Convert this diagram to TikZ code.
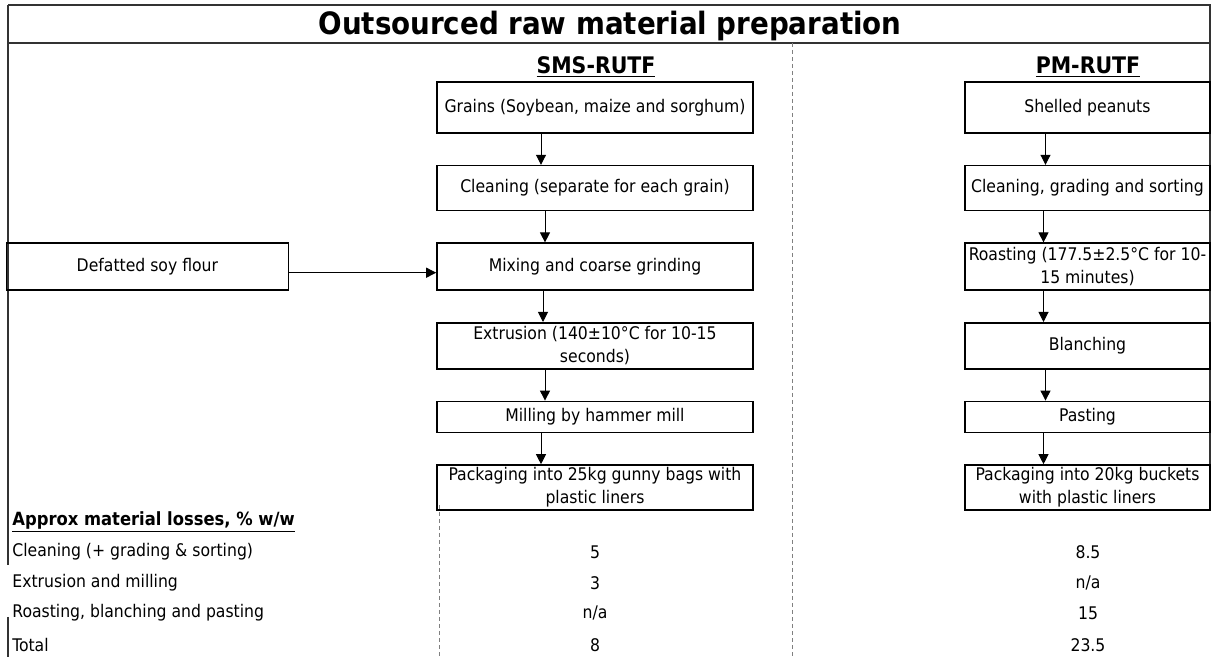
\documentclass[tikz,border=0pt]{standalone}
\usepackage{fontspec}
\setmainfont{DejaVu Sans Condensed}
\usetikzlibrary{positioning,arrows.meta}

\tikzset{
  stepbox/.style={draw, line width=0.8pt, align=center, inner sep=0pt, minimum width=158pt},
  pmbox/.style={stepbox, minimum width=122.5pt},
  flow/.style={-{Triangle[length=5pt,width=5pt]}, line width=0.5pt},
  frame/.style={line width=0.8pt, black!80},
  divider/.style={gray, line width=0.5pt, dash pattern=on 2pt off 1.5pt},
  heading/.style={font=\fontsize{11.4}{13}\selectfont\bfseries},
  rowlabel/.style={anchor=west, inner sep=0pt},
  value/.style={inner sep=0pt},
}

\begin{document}
\begin{tikzpicture}[x=0.5pt, y=-0.5pt, node distance=15.5pt, font=\fontsize{8.7}{11.5}\selectfont]
\clip (0,0) rectangle (1211,657);
% frame and dividers
\draw[frame] (8,5) -- (1211,5);
\draw[frame] (8,43) -- (1211,43);
\draw[frame] (8,5) -- (8,565);
\draw[frame] (8,617) -- (8,657);
\draw[frame] (1210,5) -- (1210,502);
\draw[divider] (792,43) -- (792,657);
\draw[divider] (439,505) -- (439,657);
\node (title) at (610,26) {\fontsize{15.4}{18}\selectfont\bfseries Outsourced raw material preparation};
\node[heading] (sms) at (596,67) {\underline{SMS-RUTF}};
\node[heading] (pm) at (1088,67) {\underline{PM-RUTF}};
% SMS-RUTF
\node[stepbox, minimum height=25.5pt] (grains) at (595,107.5) {Grains (Soybean, maize and sorghum)};
\node[stepbox, minimum height=22.5pt, below=of grains] (clean) {Cleaning (separate for each grain)};
\node[stepbox, minimum height=23.5pt, below=of clean] (mix) {Mixing and coarse grinding};
\node[stepbox, minimum height=23pt, below=of mix] (extr) {Extrusion (140±10°C for 10-15\\seconds)};
\node[stepbox, minimum height=15.5pt, below=of extr] (mill) {Milling by hammer mill};
\node[stepbox, minimum height=22.5pt, below=of mill] (pack) {Packaging into 25kg gunny bags with\\plastic liners};
\node[stepbox, minimum width=141pt, minimum height=23.5pt, left=73.5pt of mix] (soy) {Defatted soy flour};
\draw[flow] ([xshift=-27pt]grains.south) -- ([xshift=-27pt]clean.north);
\draw[flow] ([xshift=-25pt]clean.south) -- ([xshift=-25pt]mix.north);
\draw[flow] ([xshift=-26pt]mix.south) -- ([xshift=-26pt]extr.north);
\draw[flow] ([xshift=-25pt]extr.south) -- ([xshift=-25pt]mill.north);
\draw[flow] ([xshift=-27pt]mill.south) -- ([xshift=-27pt]pack.north);
\draw[flow] ([yshift=-3pt]soy.east) -- ([yshift=-3pt]mix.west);
% PM-RUTF
\node[pmbox, minimum height=25.5pt] (nuts) at (1087.5,107.5) {Shelled peanuts};
\node[pmbox, minimum height=22.5pt, below=of nuts] (sort) {Cleaning, grading and sorting};
\node[pmbox, minimum height=23.5pt, below=of sort] (roast) {Roasting (177.5±2.5°C for 10-\\15 minutes)};
\node[pmbox, minimum height=23pt, below=of roast] (blanch) {Blanching};
\node[pmbox, minimum height=15.5pt, below=of blanch] (paste) {Pasting};
\node[pmbox, minimum height=22.5pt, below=of paste] (bucket) {Packaging into 20kg buckets\\with plastic liners};
\draw[flow] ([xshift=-21pt]nuts.south) -- ([xshift=-21pt]sort.north);
\draw[flow] ([xshift=-22pt]sort.south) -- ([xshift=-22pt]roast.north);
\draw[flow] ([xshift=-22pt]roast.south) -- ([xshift=-22pt]blanch.north);
\draw[flow] ([xshift=-21pt]blanch.south) -- ([xshift=-21pt]paste.north);
\draw[flow] ([xshift=-22pt]paste.south) -- ([xshift=-22pt]bucket.north);
% losses
\node[rowlabel] (loss) at (12,522) {\fontsize{9.1}{11}\selectfont\bfseries\underline{Approx material losses, \% w/w}};
\node[rowlabel] (rclean) at (12,552) {Cleaning (+ grading \& sorting)};
\node[rowlabel] (rextr) at (12,583) {Extrusion and milling};
\node[rowlabel] (rroast) at (12,613) {Roasting, blanching and pasting};
\node[rowlabel] (rtotal) at (12,645) {Total};
\node[value] (s1) at (595,552) {5};
\node[value] (s2) at (595,583) {3};
\node[value] (s3) at (595,613) {n/a};
\node[value] (s4) at (595,645) {8};
\node[value] (p1) at (1088,552) {8.5};
\node[value] (p2) at (1088,583) {n/a};
\node[value] (p3) at (1088,613) {15};
\node[value] (p4) at (1088,645) {23.5};
\end{tikzpicture}
\end{document}
